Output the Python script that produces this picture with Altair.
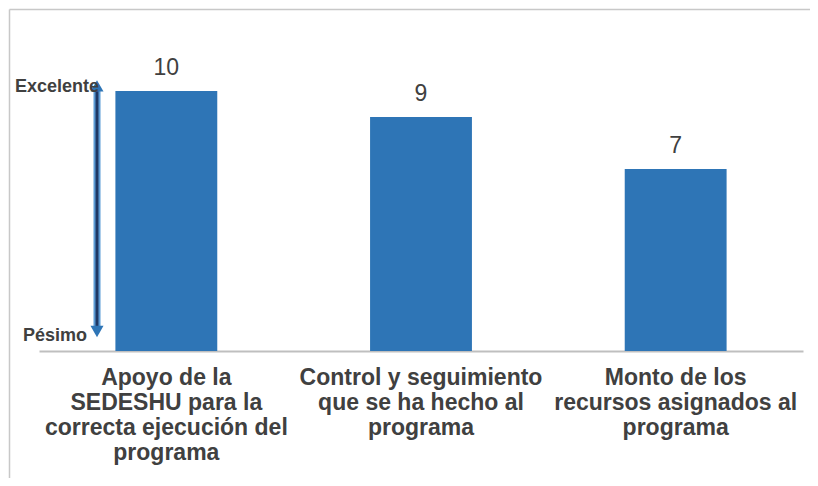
import altair as alt
import pandas as pd

categories = [
    "Apoyo de la\nSEDESHU para la\ncorrecta ejecución del\nprograma",
    "Control y seguimiento\nque se ha hecho al\nprograma",
    "Monto de los\nrecursos asignados al\nprograma",
]
values = [10, 9, 7]
scale_labels = ["Excelente", "Pésimo"]

df = pd.DataFrame({"cat": categories, "val": values})

FONT = "Liberation Sans"
TXT = "#404040"
BLUE = "#2E75B6"

x_enc = alt.X(
    "cat:N",
    sort=categories,
    title=None,
    scale=alt.Scale(paddingInner=0.6, paddingOuter=0.3),
    axis=alt.Axis(
        labelExpr="split(datum.label, '\\n')",
        labelAngle=0,
        labelFont=FONT,
        labelFontSize=23,
        labelFontWeight="bold",
        labelColor=TXT,
        labelLineHeight=25,
        labelPadding=15,
        labelLimit=0,
        ticks=False,
        domainColor="#BFBFBF",
        domainWidth=2,
        grid=False,
    ),
)
y_scale = alt.Scale(domain=[0, 12])

base = alt.Chart(df)

bars = base.mark_bar(color=BLUE).encode(
    x=x_enc,
    y=alt.Y("val:Q", scale=y_scale, axis=None),
)

value_labels = base.mark_text(
    font=FONT, fontSize=23, color=TXT, baseline="alphabetic", dy=-16
).encode(
    x=alt.X("cat:N", sort=categories),
    y=alt.Y("val:Q", scale=y_scale),
    text=alt.Text("val:Q"),
)

one = pd.DataFrame({"a": [0]})

# border frame (decoration): only top and left edges are visible
frame_top = alt.Chart(one).mark_rule(color="#C8C8C8", strokeWidth=1.5).encode(
    x=alt.value(-29.5), x2=alt.value(790), y=alt.value(-29.5)
)
frame_left = alt.Chart(one).mark_rule(color="#C8C8C8", strokeWidth=1.5).encode(
    x=alt.value(-29.5), y=alt.value(-29.5), y2=alt.value(440)
)

shaft_out = alt.Chart(one).mark_rule(color="#5B9BD5", strokeWidth=7).encode(
    x=alt.value(58), y=alt.datum(10.0, scale=y_scale), y2=alt.datum(0.95)
)
shaft_in = alt.Chart(one).mark_rule(color="#1F3864", strokeWidth=3).encode(
    x=alt.value(58), y=alt.datum(10.0, scale=y_scale), y2=alt.datum(0.95)
)
head_top = alt.Chart(one).mark_point(
    shape="triangle-up", filled=True, color=BLUE, size=170, opacity=1
).encode(x=alt.value(58), y=alt.datum(10.2, scale=y_scale))
head_bot = alt.Chart(one).mark_point(
    shape="triangle-down", filled=True, color=BLUE, size=170, opacity=1
).encode(x=alt.value(58), y=alt.datum(0.75, scale=y_scale))

exc = alt.Chart(one).mark_text(
    text=scale_labels[0], font=FONT, fontSize=18, fontWeight="bold", color=TXT,
    align="right", baseline="alphabetic"
).encode(x=alt.value(60), y=alt.value(53))
pes = alt.Chart(one).mark_text(
    text=scale_labels[1], font=FONT, fontSize=18, fontWeight="bold", color=TXT,
    align="right", baseline="alphabetic"
).encode(x=alt.value(48), y=alt.value(302))

chart = alt.layer(
    frame_top, frame_left, bars, value_labels, shaft_out, shaft_in,
    head_top, head_bot, exc, pes
).properties(
    width=764,
    height=312,
    autosize=alt.AutoSizeParams(type="none"),
    padding={"left": 31, "top": 31, "right": 7, "bottom": 127},
    background="white",
).configure_view(strokeWidth=0)

chart.save("out.html", embed_options={"renderer": "svg", "actions": False})
